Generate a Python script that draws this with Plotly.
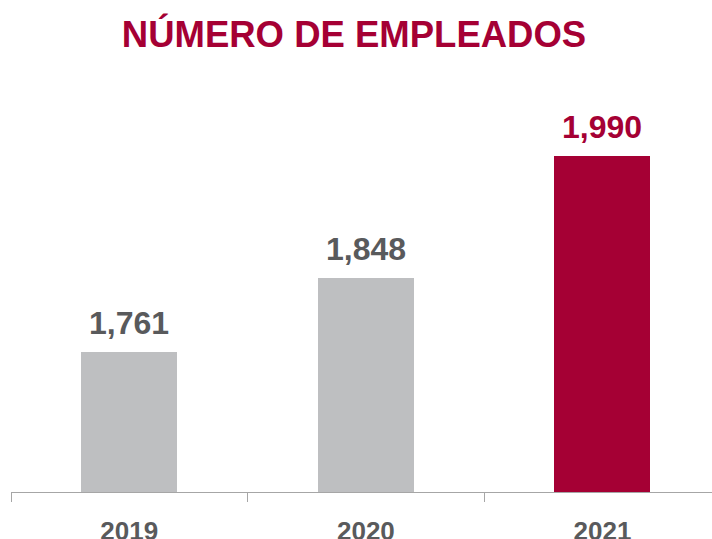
import plotly.graph_objects as go

years = ["2019", "2020", "2021"]
employees = [1761, 1848, 1990]
value_labels = ["1,761", "1,848", "1,990"]
bar_colors = ["#BEBFC1", "#BEBFC1", "#A50034"]
label_colors = ["#595A5C", "#595A5C", "#A50034"]

fig = go.Figure()
fig.add_trace(go.Bar(
    x=years, y=employees, marker=dict(color=bar_colors, line=dict(width=0)),
    width=0.406, hoverinfo="skip",
))

for i, (v, t, c) in enumerate(zip(employees, value_labels, label_colors)):
    fig.add_annotation(x=i, y=v, text="<b>%s</b>" % t, showarrow=False,
                       xanchor="center", yanchor="bottom", yshift=9,
                       font=dict(family="Liberation Sans, Arial", size=32, color=c))

fig.update_layout(
    width=712, height=539,
    margin=dict(l=11, r=0, t=80, b=47),
    paper_bgcolor="white", plot_bgcolor="white",
    showlegend=False,
    bargap=0,
    title=dict(text="<b>NÚMERO DE EMPLEADOS</b>", x=354 / 712, xanchor="center",
               xref="container", yref="container", y=1 - 34 / 539, yanchor="middle",
               font=dict(family="Liberation Sans, Arial", size=36.5, color="#A50034")),
)
fig.update_xaxes(
    type="category", range=[-0.5, 2.463], automargin=False,
    showline=True, linecolor="#A6A6A6", linewidth=1.3,
    ticks="outside", tickson="boundaries", ticklen=9, tickcolor="#A6A6A6",
    tickwidth=1.3, showgrid=False, zeroline=False,
    tickfont=dict(family="Liberation Sans Narrow, Arial Narrow, Liberation Sans", size=26, color="#595A5C"),
    tickprefix="<b>", ticksuffix="</b>", ticklabelstandoff=16,
)
fig.update_yaxes(range=[1598, 2079], visible=False, showgrid=False, zeroline=False,
                 automargin=False)

fig.write_html("out.html", config={"displayModeBar": False},
               post_script="document.body.style.margin='0';")
